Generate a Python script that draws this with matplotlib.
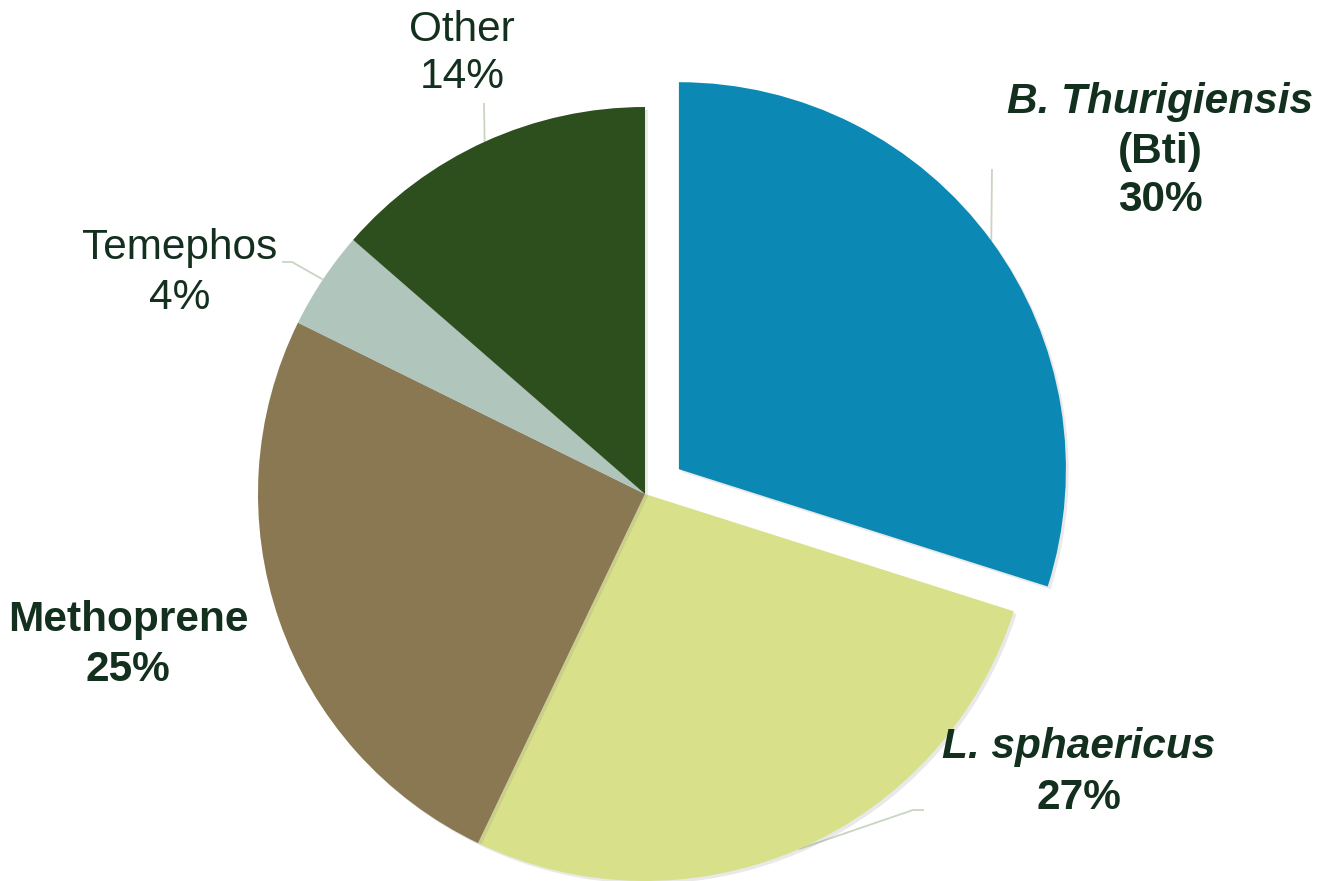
import numpy as np
import matplotlib.pyplot as plt
import matplotlib.patheffects as pe

## Data
labels = ["B. Thurigiensis (Bti)", "L. sphaericus", "Methoprene", "Temephos", "Other"]
shares = [29.9, 27.2, 25.2, 4.1, 13.6]
colors = ["#0B88B3", "#D9E08A", "#8A7852", "#B0C6BC", "#2D4F1E"]

text_color = "#13301F"
line_color = "#C9D5C1"
W, H = 1327, 881

plt.rcParams['font.family'] = ['Liberation Sans', 'DejaVu Sans']

fig = plt.figure(figsize=(W / 100, H / 100), dpi=100)
ax = fig.add_axes([0, 0, 1, 1])

cx, cy, r = 645, H - 494, 387
explode = [42, 0, 0, 0, 0]

wedges, _ = ax.pie(shares, colors=colors, startangle=90, counterclock=False,
                   center=(cx, cy), radius=r, explode=explode,
                   wedgeprops=dict(linewidth=0), frame=True)
for w in wedges:
    w.set_path_effects([pe.SimplePatchShadow(offset=(2, -2), shadow_rgbFace='#888888', alpha=0.18),
                        pe.Normal()])
ax.set_xlim(0, W)
ax.set_ylim(0, H)
ax.set_aspect('equal')
ax.axis('off')


def edge_point(i):
    w = wedges[i]
    mid = np.deg2rad((w.theta1 + w.theta2) / 2)
    x0, y0 = w.center
    return x0 + r * np.cos(mid), y0 + r * np.sin(mid)


# leader lines: edge -> elbow -> end (pixel coords, y from top)
leaders = {
    0: [(992, 169)],
    1: [(913, 810), (924, 810)],
    3: [(292, 262), (282, 262)],
    4: [(484, 103)],
}
for i, pts in leaders.items():
    ex, ey = edge_point(i)
    xs = [ex] + [p[0] for p in pts]
    ys = [ey] + [H - p[1] for p in pts]
    ax.plot(xs, ys, color=line_color, lw=1.3, zorder=0.5, solid_capstyle='butt')

fs = 30.5


def put(x, y, s, bold=False, italic=False):
    ax.text(x, H - y, s, ha='center', va='center', fontsize=fs, color=text_color,
            fontweight='bold' if bold else 'normal',
            fontstyle='italic' if italic else 'normal')


def pct(v):
    return f"{round(v)}%"


put(1160, 102, "B. Thurigiensis", bold=True, italic=True)
put(1160, 152, "(Bti)", bold=True)
put(1160, 200, pct(shares[0]), bold=True)

put(1079, 747, "L. sphaericus", bold=True, italic=True)
put(1079, 798, pct(shares[1]), bold=True)

put(128, 620, "Methoprene", bold=True)
put(128, 670, pct(shares[2]), bold=True)

put(180, 248, "Temephos")
put(180, 298, pct(shares[3]))

put(462, 30, "Other")
put(462, 77, pct(shares[4]))

fig.savefig("out.png", dpi=100)
